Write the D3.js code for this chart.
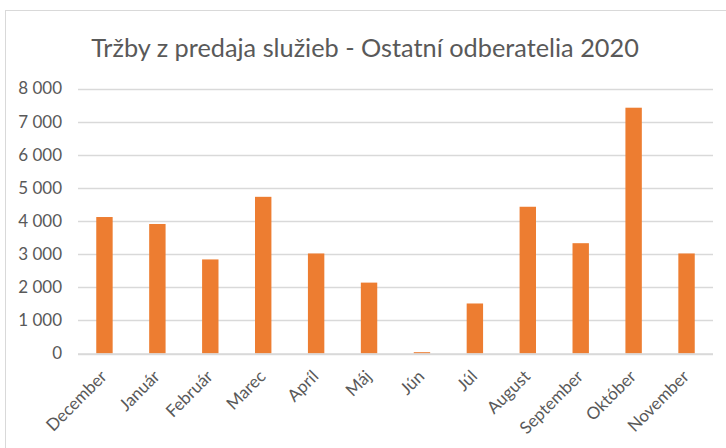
<!DOCTYPE html>
<html>
<head>
<meta charset="utf-8">
<script src="https://cdn.jsdelivr.net/npm/d3@7"></script>
<style>
  body { margin: 0; background: #fff; }
  text { font-family: Lato, "Open Sans", sans-serif; fill: #595959; }
</style>
</head>
<body>
<svg id="chart" width="726" height="448"></svg>
<script>
// chart data
const months = ["December", "Január", "Február", "Marec", "Apríl", "Máj",
                "Jún", "Júl", "August", "September", "Október", "November"];
const sales = [4120, 3910, 2840, 4730, 3020, 2140, 40, 1510, 4430, 3330, 7420, 3020];
const yTicks = [0, 1000, 2000, 3000, 4000, 5000, 6000, 7000, 8000];
const chartTitle = "Tržby z predaja služieb - Ostatní odberatelia 2020";

const svg = d3.select("#chart");

// outer chart border
svg.append("rect")
    .attr("x", 5.5).attr("y", 10.5)
    .attr("width", 740).attr("height", 460)
    .attr("fill", "none")
    .attr("stroke", "#d9d9d9");

const plot = { left: 78, right: 713, top: 88.5, bottom: 353.5 };

let x = d3.scaleBand()
    .domain(months)
    .range([plot.left, plot.right])
    .paddingInner(0.69)
    .paddingOuter(0.345);

let y = d3.scaleLinear()
    .domain([0, 8000])
    .range([plot.bottom, plot.top]);

// gridlines
svg.append("g")
    .selectAll("line")
    .data(yTicks)
    .enter()
    .append("line")
    .attr("x1", plot.left).attr("x2", plot.right)
    .attr("y1", d => Math.round(y(d)) + 0.5)
    .attr("y2", d => Math.round(y(d)) + 0.5)
    .attr("stroke", "#d9d9d9")
    .attr("stroke-width", 1.3);

// y axis labels
let yAxis = d3.axisLeft(y).tickValues(yTicks).tickSize(0).tickPadding(0)
    .tickFormat(d => d3.format(",")(d).replace(/,/g, " "));
let yg = svg.append("g")
    .attr("transform", `translate(62,0)`)
    .call(yAxis);
yg.select(".domain").remove();
yg.selectAll("text")
    .attr("font-size", 17)
    .attr("fill", "#595959")
    .style("font-family", "Lato, sans-serif");

// bars
svg.append("g")
    .selectAll("rect")
    .data(sales)
    .enter()
    .append("rect")
    .attr("x", (d, i) => x(months[i]))
    .attr("y", d => y(d))
    .attr("width", x.bandwidth())
    .attr("height", d => plot.bottom - y(d))
    .attr("fill", "#ed7d31");

// x axis line
svg.append("line")
    .attr("x1", plot.left).attr("x2", plot.right)
    .attr("y1", plot.bottom + 0.5).attr("y2", plot.bottom + 0.5)
    .attr("stroke", "#d9d9d9")
    .attr("stroke-width", 1.3);

// x labels, rotated
let xAxis = d3.axisBottom(x).tickSize(0).tickPadding(0);
let xg = svg.append("g")
    .attr("transform", `translate(0,${plot.bottom})`)
    .call(xAxis);
xg.select(".domain").remove();
xg.selectAll("text")
    .attr("font-size", 17)
    .attr("fill", "#595959")
    .style("font-family", "Lato, sans-serif")
    .attr("text-anchor", "end")
    .attr("dy", 0)
    .attr("y", 0)
    .attr("transform", "translate(3.5,24) rotate(-45)");

// title
svg.append("text")
    .attr("x", 365)
    .attr("y", 57)
    .attr("text-anchor", "middle")
    .attr("font-size", 25.3)
    .attr("fill", "#595959")
    .text(chartTitle);
</script>
</body>
</html>
